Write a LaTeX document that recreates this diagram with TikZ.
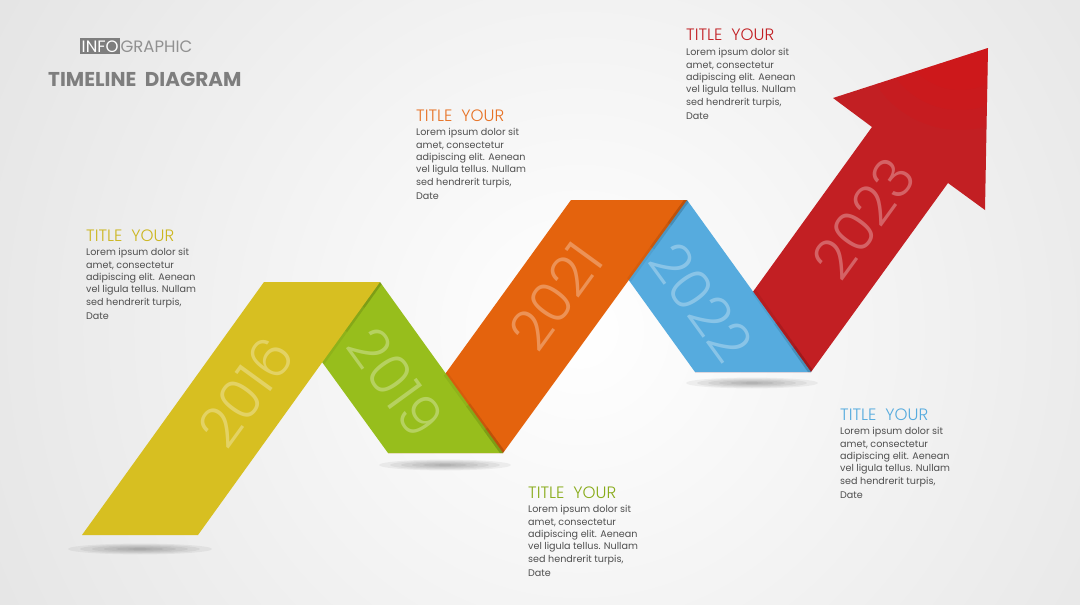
\documentclass[tikz,border=0pt]{standalone}
\usepackage{fontspec}
\setmainfont{Poppins}
\newfontfamily\yearfont{Poppins Light}
\usetikzlibrary{positioning,calc}
\definecolor{yel}{HTML}{D7BF21}
\definecolor{grn}{HTML}{97BE1C}
\definecolor{org}{HTML}{E4630D}
\definecolor{blu}{HTML}{56ABDE}
\definecolor{rd}{HTML}{C21F23}
\definecolor{txt}{HTML}{4F4F4F}
\definecolor{hdr}{HTML}{7E7E7E}
\newcommand{\loremtxt}{Lorem ipsum dolor sit\\amet, consectetur\\adipiscing elit. Aenean\\vel ligula tellus. Nullam\\sed hendrerit turpis,}
\tikzset{
  ttl/.style={anchor=base west, inner sep=0pt, font=\yearfont\fontsize{16.5}{16.5}\selectfont},
  body/.style={inner sep=0pt, align=left, text=txt, font=\fontsize{9.6}{12.3}\selectfont},
  yr/.style={text=white, opacity=0.3, inner sep=0pt, font=\yearfont\fontsize{56}{56}\selectfont},
  fold/.style={black, opacity=0.06, line width=5pt},
}
\begin{document}
\begin{tikzpicture}[x=1pt,y=-1pt]
  \useasboundingbox (0,0) rectangle (1080,605);
  % background
  \begin{scope}
    \clip (0,0) rectangle (1080,605);
    \fill[black!20] (0,0) rectangle (1080,605);
    \shade[inner color=white, outer color=black!20] (580,330) circle (1300pt);
  \end{scope}
  % ground shadows
  \foreach \r in {1,...,6} {
    \fill[black, opacity=0.05] (140,549) ellipse ({12*\r pt} and {0.9*\r pt});
    \fill[black, opacity=0.05] (445,465) ellipse ({11*\r pt} and {0.9*\r pt});
    \fill[black, opacity=0.05] (752,383) ellipse ({11*\r pt} and {0.9*\r pt});
  }
  % ribbon
  \fill[rd] (695,372) -- (811,372) -- (948,183) -- (985,210) -- (988,48)
    -- (833,98) -- (872,127) -- cycle;
  \begin{scope}
    \clip (833,98) -- (988,48) -- (985,210) -- (948,183) -- (872,127) -- cycle;
    \foreach \r in {60,80,100} \fill[red!60!rd, opacity=0.12] (960,30) circle (\r pt);
  \end{scope}
  \fill[blu] (571,200) -- (687,200) -- (811,372) -- (695,372) -- cycle;
  \begin{scope}
    \clip (695,372) -- (811,372) -- (948,183) -- (872,127) -- cycle;
    \foreach \f in {0.3,0.6,1} \draw[fold] (811,372) -- ($(811,372)!\f!(753,290)$);
  \end{scope}
  \fill[org] (388,453) -- (503,453) -- (687,200) -- (571,200) -- cycle;
  \begin{scope}
    \clip (571,200) -- (687,200) -- (811,372) -- (695,372) -- cycle;
    \foreach \f in {0.3,0.6,1} \draw[fold] (687,200) -- ($(687,200)!\f!(629,280)$);
  \end{scope}
  \fill[grn] (264,282) -- (380,282) -- (503,453) -- (388,453) -- cycle;
  \begin{scope}
    \clip (388,453) -- (503,453) -- (687,200) -- (571,200) -- cycle;
    \foreach \f in {0.3,0.6,1} \draw[fold] (503,453) -- ($(503,453)!\f!(445,373)$);
  \end{scope}
  \begin{scope}
    \clip (264,282) -- (380,282) -- (503,453) -- (388,453) -- cycle;
    \foreach \f in {0.3,0.6,1} \draw[fold] (380,282) -- ($(380,282)!\f!(322,363)$);
  \end{scope}
  \fill[yel] (82,535) -- (198,535) -- (380,282) -- (264,282) -- cycle;
  % years
  \node[yr, rotate=54] (y2016) at (246,392) {2016};
  \node[yr, rotate=-54] (y2019) at (396,382) {2019};
  \node[yr, rotate=54] (y2021) at (556,296) {2021};
  \node[yr, rotate=-54] (y2022) at (701,302) {2022};
  \node[yr, rotate=54] (y2023) at (864,218) {2023};
  % header
  \node[anchor=base west, fill=hdr, inner xsep=1.5pt, inner ysep=2pt, font=\fontsize{16.5}{16.5}\selectfont, text=white] (info) at (80,52) {INFO};
  \node[anchor=base west, inner sep=0pt, font=\fontsize{16.5}{16.5}\selectfont, text=hdr!85!white] (graphic) at (info.base east) {GRAPHIC};
  \node[anchor=base west, inner sep=0pt, font=\bfseries\fontsize{20}{20}\selectfont, text=hdr] (head) at (48,86) {TIMELINE\ \ DIAGRAM};
  % text blocks
  \node[ttl, text=yel!95!black] (t2016) at (86,241) {TITLE\ \ YOUR};
  \node[body, below=7pt of t2016.south west, anchor=north west] (b2016) {\loremtxt};
  \node[body, below=5pt of b2016.south west, anchor=north west] (d2016) {Date};
  \node[ttl, text=org!90!white] (t2021) at (416,121) {TITLE\ \ YOUR};
  \node[body, below=7pt of t2021.south west, anchor=north west] (b2021) {\loremtxt};
  \node[body, below=5pt of b2021.south west, anchor=north west] (d2021) {Date};
  \node[ttl, text=rd] (t2023) at (686,41) {TITLE\ \ YOUR};
  \node[body, below=7pt of t2023.south west, anchor=north west] (b2023) {\loremtxt};
  \node[body, below=5pt of b2023.south west, anchor=north west] (d2023) {Date};
  \node[ttl, text=grn!90!black] (t2019) at (528,498) {TITLE\ \ YOUR};
  \node[body, below=7pt of t2019.south west, anchor=north west] (b2019) {\loremtxt};
  \node[body, below=5pt of b2019.south west, anchor=north west] (d2019) {Date};
  \node[ttl, text=blu] (t2022) at (840,420) {TITLE\ \ YOUR};
  \node[body, below=7pt of t2022.south west, anchor=north west] (b2022) {\loremtxt};
  \node[body, below=5pt of b2022.south west, anchor=north west] (d2022) {Date};
\end{tikzpicture}
\end{document}
